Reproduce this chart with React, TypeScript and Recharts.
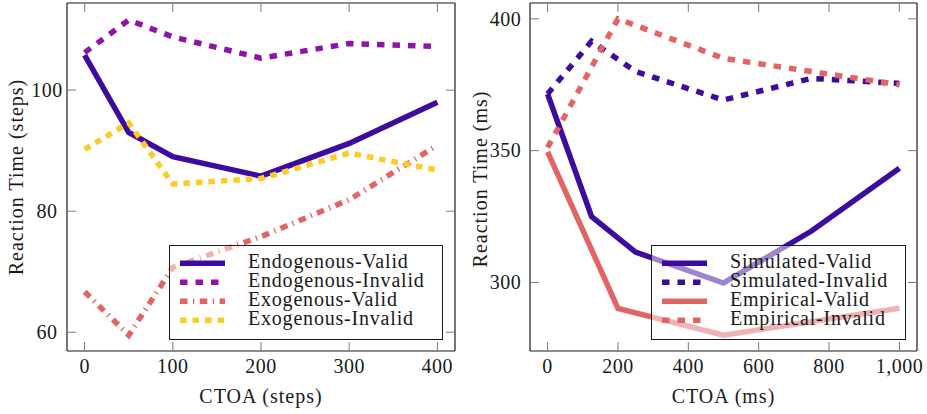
import React from 'react';
import { LineChart, Line, XAxis, YAxis } from 'recharts';

const FONT = "'Liberation Serif', 'Times New Roman', serif";
const INK = '#1a1a1a';
const TICK = '#7a7a7a';

const INDIGO = '#3d0b9d';
const PURPLE = '#8e14a8';
const RED = '#e16565';
const GOLD = '#fdcb26';

const DASHED = '7.5 8';
const DASHDOT = '7.5 5.5 1.3 5.5';
const DOTTED = '6.5 6';

// left panel, model time in steps
const stepsX = [0, 50, 100, 200, 300, 400];
const endoValid = [105.8, 93, 89, 85.8, 91.2, 98];
const endoInvalid = [106.2, 111.6, 108.8, 105.3, 107.7, 107.2];
const exoValid = [66.7, 59.5, 70.7, 75.8, 81.9, 90.9];
const exoInvalid = [90.2, 94.6, 84.5, 85.4, 89.6, 86.8];
const stepsXTicks = [0, 100, 200, 300, 400];
const stepsYTicks = [60, 80, 100];

// right panel, ms
const simX = [0, 125, 250, 500, 750, 1000];
const simValid = [371.5, 325, 311.5, 299.8, 319.5, 343.3];
const simInvalid = [371.5, 391.5, 380, 369.2, 377.4, 375.5];
const empX = [0, 200, 500, 1000];
const empValid = [349.5, 290.2, 280, 290.2];
const empInvalid = [351.2, 400, 385, 375];
const msXTicks = [0, 200, 400, 600, 800, 1000];
const msYTicks = [300, 350, 400];

type Series = { label: string; color: string; dash?: string; points: { x: number; y: number }[] };

const toPoints = (xs: number[], ys: number[]) => xs.map((x, i) => ({ x, y: ys[i] }));

const stepsSeries: Series[] = [
  { label: 'Endogenous-Valid', color: INDIGO, points: toPoints(stepsX, endoValid) },
  { label: 'Endogenous-Invalid', color: PURPLE, dash: DASHED, points: toPoints(stepsX, endoInvalid) },
  { label: 'Exogenous-Valid', color: RED, dash: DASHDOT, points: toPoints(stepsX, exoValid) },
  { label: 'Exogenous-Invalid', color: GOLD, dash: DOTTED, points: toPoints(stepsX, exoInvalid) },
];

const msSeries: Series[] = [
  { label: 'Simulated-Valid', color: INDIGO, points: toPoints(simX, simValid) },
  { label: 'Simulated-Invalid', color: INDIGO, dash: DASHED, points: toPoints(simX, simInvalid) },
  { label: 'Empirical-Valid', color: RED, points: toPoints(empX, empValid) },
  { label: 'Empirical-Invalid', color: RED, dash: DASHED, points: toPoints(empX, empInvalid) },
];

const LW = 5.5;
const TL = 9;

const BottomTick = (p: any) => (
  <g>
    <line x1={p.x} x2={p.x} y1={p.y} y2={p.y - TL} stroke={TICK} />
    <text x={p.x} y={p.y + 21.5} textAnchor="middle" fill={INK} fontSize={20} fontFamily={FONT} letterSpacing={0.5}>
      {Number(p.payload.value).toLocaleString('en-US')}
    </text>
  </g>
);
const TopTick = (p: any) => <line x1={p.x} x2={p.x} y1={p.y} y2={p.y + TL} stroke={TICK} />;
const RightTick = (p: any) => <line x1={p.x} x2={p.x - TL} y1={p.y} y2={p.y} stroke={TICK} />;
const makeLeftTick = (offset: number) => (p: any) => (
  <g>
    <line x1={p.x} x2={p.x + TL} y1={p.y} y2={p.y} stroke={TICK} />
    <text x={p.x - offset} y={p.y + 6.8} textAnchor="middle" fill={INK} fontSize={20} fontFamily={FONT} letterSpacing={0.5}>
      {p.payload.value}
    </text>
  </g>
);

interface PanelProps {
  left: number;
  width: number;
  margin: { top: number; right: number; bottom: number; left: number };
  xDomain: [number, number];
  yDomain: [number, number];
  xTicks: number[];
  yTicks: number[];
  series: Series[];
  labelOffset: number;
}

// axes are 1px thick so recharts still draws them; margins account for that
function Panel({ left, width, margin, xDomain, yDomain, xTicks, yTicks, series, labelOffset }: PanelProps) {
  const frame = { stroke: INK, strokeWidth: 1.2 };
  return (
    <div style={{ position: 'absolute', left, top: 0 }}>
      <LineChart width={width} height={414} margin={margin}>
        <XAxis xAxisId="b" type="number" dataKey="x" domain={xDomain} allowDataOverflow ticks={xTicks}
          interval={0} height={1} tickSize={0} tickMargin={0} tickLine={false} axisLine={frame} tick={BottomTick} />
        <XAxis xAxisId="t" orientation="top" type="number" dataKey="x" domain={xDomain} allowDataOverflow ticks={xTicks}
          interval={0} height={1} tickSize={0} tickMargin={0} tickLine={false} axisLine={frame} tick={TopTick} />
        <YAxis yAxisId="l" type="number" domain={yDomain} allowDataOverflow ticks={yTicks}
          interval={0} width={1} tickSize={0} tickMargin={0} tickLine={false} axisLine={frame} tick={makeLeftTick(labelOffset)} />
        <YAxis yAxisId="r" orientation="right" type="number" domain={yDomain} allowDataOverflow ticks={yTicks}
          interval={0} width={1} tickSize={0} tickMargin={0} tickLine={false} axisLine={frame} tick={RightTick} />
        {series.map((s) => (
          <Line key={s.label} xAxisId="b" yAxisId="l" data={s.points} dataKey="y" type="linear"
            stroke={s.color} strokeWidth={LW} strokeDasharray={s.dash} strokeLinejoin="miter" strokeLinecap="butt"
            dot={false} activeDot={false} isAnimationActive={false} />
        ))}
      </LineChart>
    </div>
  );
}

function LegendBox({ left, width, series }: { left: number; width: number; series: Series[] }) {
  return (
    <div style={{ position: 'absolute', left, top: 245, width, height: 94.5, boxSizing: 'border-box',
      border: `1.2px solid ${INK}`, background: 'rgba(255,255,255,0.5)' }}>
      <svg width={width} height={94} style={{ position: 'absolute', left: -1.2, top: -1.2 }}>
        {series.map((s, i) => {
          const cy = 18.3 + i * 19;
          return (
            <g key={s.label}>
              <line x1={11} x2={56} y1={cy} y2={cy} stroke={s.color} strokeWidth={LW} strokeDasharray={s.dash} />
              <text x={79} y={cy + 4.3} fill={INK} fontSize={20} fontFamily={FONT} letterSpacing={0.8}>{s.label}</text>
            </g>
          );
        })}
      </svg>
    </div>
  );
}

export default function App() {
  const title = { fill: INK, fontSize: 20, fontFamily: FONT, letterSpacing: 1 } as const;
  return (
    <div style={{ position: 'absolute', left: 0, top: 0, width: 927, height: 414, background: '#fff' }}>
      <Panel left={0} width={470} margin={{ top: 2, right: 14, bottom: 62, left: 66 }}
        xDomain={[-20, 420]} yDomain={[56.9, 114.4]} xTicks={stepsXTicks} yTicks={stepsYTicks}
        series={stepsSeries} labelOffset={20} />
      <Panel left={460} width={467} margin={{ top: 2, right: 9, bottom: 62, left: 69 }}
        xDomain={[-50, 1050]} yDomain={[274, 406]} xTicks={msXTicks} yTicks={msYTicks}
        series={msSeries} labelOffset={24.5} />
      <svg width={927} height={414} style={{ position: 'absolute', left: 0, top: 0, pointerEvents: 'none' }}>
        <text x={261} y={403} textAnchor="middle" {...title}>CTOA (steps)</text>
        <text x={723.5} y={403} textAnchor="middle" {...title}>CTOA (ms)</text>
        <text transform="translate(23,177) rotate(-90)" textAnchor="middle" {...title}>Reaction Time (steps)</text>
        <text transform="translate(487,179) rotate(-90)" textAnchor="middle" {...title}>Reaction Time (ms)</text>
      </svg>
      <LegendBox left={169} width={274} series={stepsSeries} />
      <LegendBox left={651} width={255} series={msSeries} />
    </div>
  );
}
